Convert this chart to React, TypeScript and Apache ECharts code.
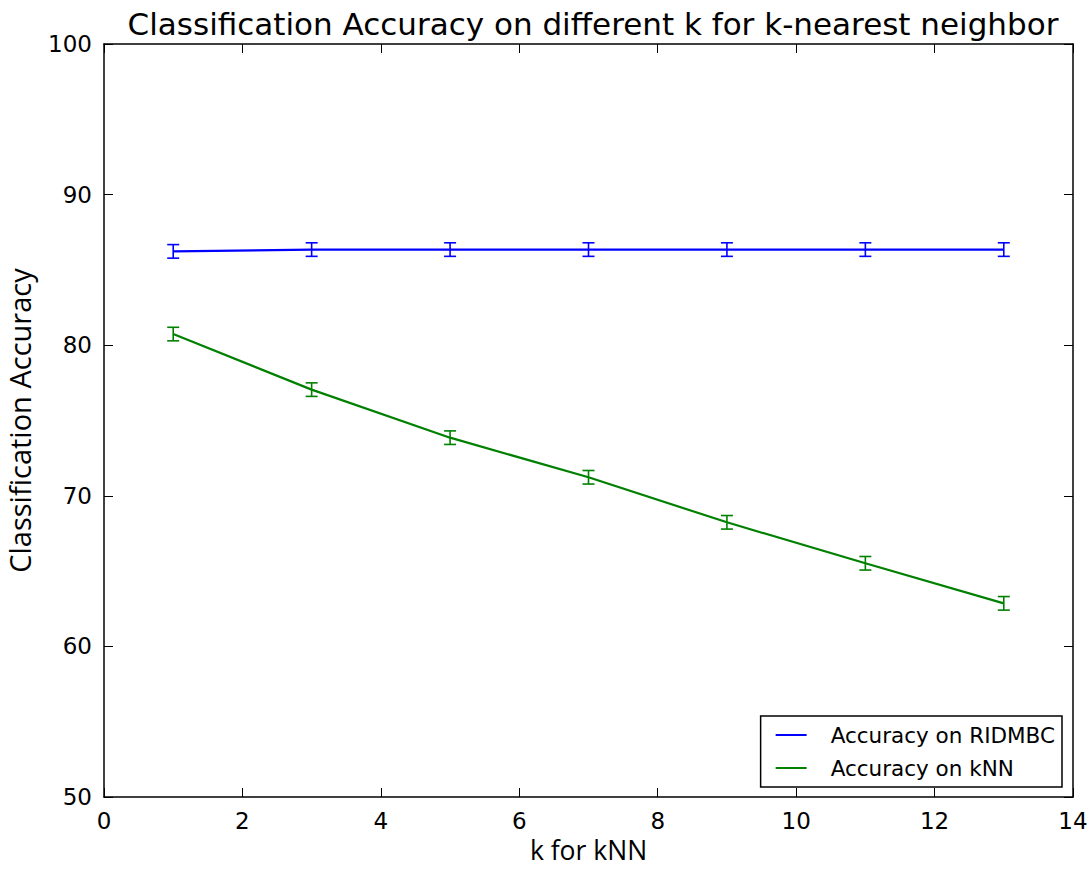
import React, { useEffect, useRef } from "react";
import * as echarts from "echarts";

const kValues = [1, 3, 5, 7, 9, 11, 13];
const ridmbcAcc = [86.23, 86.35, 86.35, 86.35, 86.35, 86.35, 86.35];
const ridmbcErr = [0.45, 0.45, 0.45, 0.45, 0.45, 0.45, 0.45];
const knnAcc = [80.74, 77.05, 73.86, 71.23, 68.24, 65.52, 62.86];
const knnErr = [0.45, 0.45, 0.45, 0.45, 0.45, 0.45, 0.45];
const xTicks = [0, 2, 4, 6, 8, 10, 12, 14];
const yTicks = [50, 60, 70, 80, 90, 100];

const BLUE = "#0000ff";
const GREEN = "#008000";

function errorSeries(name: string, vals: number[], errs: number[], color: string) {
  return {
    type: "custom",
    name: name + " err",
    xAxisIndex: 0,
    yAxisIndex: 0,
    z: 3,
    silent: true,
    data: kValues.map((k, i) => [k, vals[i] - errs[i], vals[i] + errs[i]]),
    renderItem: (params: any, api: any) => {
      const x = api.value(0);
      const lo = api.coord([x, api.value(1)]);
      const hi = api.coord([x, api.value(2)]);
      const w = 6;
      const style = { stroke: color, lineWidth: 1.6 };
      return {
        type: "group",
        children: [
          { type: "line", shape: { x1: lo[0], y1: lo[1], x2: hi[0], y2: hi[1] }, style },
          { type: "line", shape: { x1: lo[0] - w, y1: lo[1], x2: lo[0] + w, y2: lo[1] }, style },
          { type: "line", shape: { x1: hi[0] - w, y1: hi[1], x2: hi[0] + w, y2: hi[1] }, style },
        ],
      };
    },
  };
}

export default function App() {
  const ref = useRef<HTMLDivElement>(null);
  useEffect(() => {
    if (!ref.current) return;
    const chart = echarts.init(ref.current, null, { renderer: "svg" });
    const tickFont = { fontFamily: "DejaVu Sans", fontSize: 23, color: "#000" };
    const baseX = {
      type: "value",
      min: xTicks[0],
      max: xTicks[xTicks.length - 1],
      interval: 2,
      splitLine: { show: false },
      axisLine: { show: true, onZero: false, lineStyle: { color: "#000", width: 1.5 } },
      axisTick: { show: true, inside: true, length: 9, lineStyle: { color: "#000", width: 1 } },
    };
    const baseY = {
      type: "value",
      min: yTicks[0],
      max: yTicks[yTicks.length - 1],
      interval: 10,
      splitLine: { show: false },
      axisLine: { show: true, onZero: false, lineStyle: { color: "#000", width: 1.5 } },
      axisTick: { show: true, inside: true, length: 9, lineStyle: { color: "#000", width: 1 } },
    };
    chart.setOption({
      animation: false,
      backgroundColor: "#fff",
      title: {
        text: "Classification Accuracy on different k for k-nearest neighbor",
        left: 588,
        textAlign: "center",
        top: 3,
        textStyle: { fontFamily: "DejaVu Sans", fontSize: 31, fontWeight: "normal", color: "#000" },
      },
      grid: { left: 104, right: 16, top: 44, bottom: 72, outerBoundsMode: "none", containLabel: false },
      legend: {
        orient: "vertical",
        right: 27,
        bottom: 82,
        data: ["Accuracy on RIDMBC", "Accuracy on kNN"],
        icon: "rect",
        itemWidth: 31,
        itemHeight: 2,
        itemGap: 11,
        padding: [8, 7, 8, 15],
        borderColor: "#000",
        borderWidth: 1.5,
        backgroundColor: "#fff",
        textStyle: { fontFamily: "DejaVu Sans", fontSize: 21.5, color: "#000", padding: [0, 0, 0, 19] },
      },
      xAxis: [
        {
          ...baseX,
          position: "bottom",
          name: "k for kNN",
          nameLocation: "middle",
          nameGap: 42,
          nameTextStyle: { fontFamily: "Open Sans", fontSize: 26.5, lineHeight: 20, color: "#000" },
          axisLabel: { ...tickFont, margin: 12 },
        },
        { ...baseX, position: "top", axisLabel: { show: false } },
      ],
      yAxis: [
        {
          ...baseY,
          position: "left",
          name: "Classification Accuracy",
          nameLocation: "middle",
          nameGap: 70,
          nameTextStyle: { fontFamily: "Open Sans", fontSize: 29, color: "#000" },
          axisLabel: { ...tickFont, margin: 12 },
        },
        { ...baseY, position: "right", axisLabel: { show: false } },
      ],
      series: [
        {
          type: "line",
          name: "Accuracy on RIDMBC",
          data: kValues.map((k, i) => [k, ridmbcAcc[i]]),
          symbol: "none",
          lineStyle: { color: BLUE, width: 2.2 },
          itemStyle: { color: BLUE },
          z: 4,
        },
        {
          type: "line",
          name: "Accuracy on kNN",
          data: kValues.map((k, i) => [k, knnAcc[i]]),
          symbol: "none",
          lineStyle: { color: GREEN, width: 2.2 },
          itemStyle: { color: GREEN },
          z: 4,
        },
        errorSeries("Accuracy on RIDMBC", ridmbcAcc, ridmbcErr, BLUE),
        errorSeries("Accuracy on kNN", knnAcc, knnErr, GREEN),
      ],
    });
    return () => chart.dispose();
  }, []);
  return <div ref={ref} style={{ width: 1089, height: 869, position: "absolute", left: 0, top: 0 }} />;
}
